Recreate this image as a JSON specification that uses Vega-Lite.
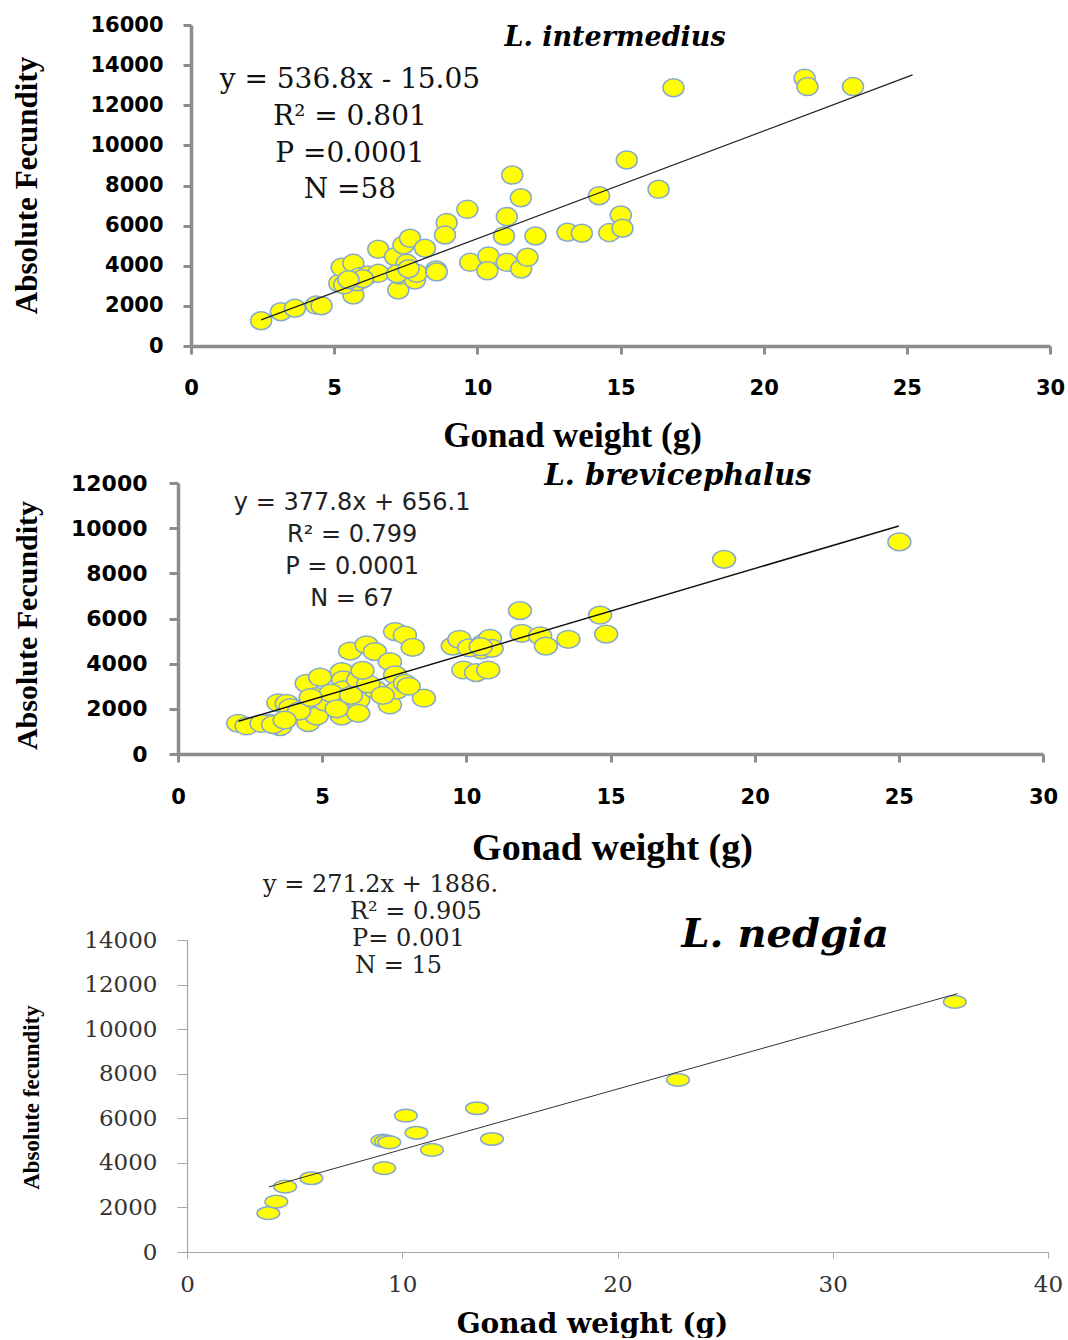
{
  "$schema": "https://vega.github.io/schema/vega-lite/v6.json",
  "padding": {"left": 10, "top": 14, "right": 0, "bottom": 0},
  "bounds": "flush",
  "spacing": 137,
  "config": {"view": {"stroke": null}, "axis": {"grid": false, "labelOverlap": false, "labelFlush": false}},
  "datasets": {
    "p1": [
      {"x":2.45,"y":1260},{"x":3.14,"y":1710},{"x":3.63,"y":1880},{"x":4.37,"y":2040},{"x":4.56,"y":2010},
      {"x":5.18,"y":3125},{"x":5.26,"y":3920},{"x":5.44,"y":3160},{"x":5.67,"y":4120},{"x":5.67,"y":2540},
      {"x":5.67,"y":3290},{"x":5.9,"y":3455},{"x":6.18,"y":3540},{"x":6.54,"y":4820},{"x":6.54,"y":3620},
      {"x":7.13,"y":4450},{"x":7.24,"y":2790},{"x":7.3,"y":3540},{"x":7.42,"y":5035},{"x":7.53,"y":4120},
      {"x":7.65,"y":5370},{"x":7.82,"y":3290},{"x":7.88,"y":3620},{"x":8.17,"y":4870},{"x":8.56,"y":3790},
      {"x":8.58,"y":3690},{"x":8.93,"y":6150},{"x":8.87,"y":5530},{"x":9.65,"y":6810},{"x":9.75,"y":4170},
      {"x":10.39,"y":4490},{"x":10.35,"y":3750},{"x":11.03,"y":6450},{"x":10.93,"y":5480},{"x":11.03,"y":4170},
      {"x":11.22,"y":8520},{"x":11.52,"y":7390},{"x":11.53,"y":3840},{"x":11.75,"y":4420},{"x":12.03,"y":5480},
      {"x":13.15,"y":5670},{"x":13.65,"y":5620},{"x":14.25,"y":7490},{"x":14.61,"y":5650},{"x":15.01,"y":6530},
      {"x":15.07,"y":5870},{"x":15.22,"y":9270},{"x":16.33,"y":7810},{"x":16.85,"y":12870},{"x":21.43,"y":13350},
      {"x":21.53,"y":12930},{"x":23.12,"y":12930},
      {"x":5.35,"y":3050},{"x":5.8,"y":3200},{"x":6.0,"y":3350},{"x":7.2,"y":3600},{"x":7.6,"y":3850},{"x":5.5,"y":3300}
    ],
    "l1": [{"x":2.45,"y":1300},{"x":25.2,"y":13510}],
    "a1": [
      {"x":5.55,"y":13260,"t":"y = 536.8x - 15.05"},
      {"x":5.55,"y":11416,"t":"R² = 0.801"},
      {"x":5.55,"y":9571,"t":"P =0.0001"},
      {"x":5.55,"y":7777,"t":"N =58"}
    ],
    "h1": [{"x":14.81,"y":15350,"t":"L. intermedius"}],
    "p2": [
      {"x":2.09,"y":1360},{"x":2.38,"y":1240},{"x":3.19,"y":1360},{"x":3.54,"y":1210},{"x":3.48,"y":2270},
      {"x":3.77,"y":2240},{"x":4.46,"y":3130},{"x":4.46,"y":2020},{"x":4.52,"y":1390},{"x":4.81,"y":2540},
      {"x":4.81,"y":2090},{"x":4.81,"y":1680},{"x":4.93,"y":3400},{"x":5.68,"y":1680},{"x":5.68,"y":3650},
      {"x":5.73,"y":3280},{"x":5.73,"y":2840},{"x":5.97,"y":4560},{"x":6.25,"y":3280},{"x":6.25,"y":2390},
      {"x":6.25,"y":1800},{"x":6.54,"y":4830},{"x":6.83,"y":4530},{"x":6.83,"y":2860},{"x":7.35,"y":4090},
      {"x":7.35,"y":2170},{"x":7.53,"y":3500},{"x":7.59,"y":2830},{"x":7.53,"y":5420},{"x":7.87,"y":5270},
      {"x":7.87,"y":3130},{"x":8.14,"y":4720},{"x":8.53,"y":2470},{"x":9.53,"y":4780},{"x":9.76,"y":5080},
      {"x":9.9,"y":3720},{"x":10.34,"y":3600},{"x":10.53,"y":4610},{"x":10.59,"y":4900},{"x":10.76,"y":3720},
      {"x":10.82,"y":5120},{"x":10.88,"y":4680},{"x":11.86,"y":6350},{"x":11.92,"y":5340},{"x":12.56,"y":5230},
      {"x":12.76,"y":4780},{"x":13.54,"y":5080},{"x":14.64,"y":6150},{"x":14.85,"y":5310},{"x":18.94,"y":8620},
      {"x":25.02,"y":9390},
      {"x":2.9,"y":1350},{"x":3.3,"y":1300},{"x":3.9,"y":2050},{"x":4.2,"y":1900},{"x":5.1,"y":2300},
      {"x":5.3,"y":2700},{"x":6.0,"y":2600},{"x":6.6,"y":3100},{"x":7.1,"y":2600},{"x":10.1,"y":4700},
      {"x":10.5,"y":4750},{"x":6.4,"y":3700},{"x":4.6,"y":2500},{"x":5.5,"y":2000},{"x":8.0,"y":3000},
      {"x":3.7,"y":1500}
    ],
    "l2": [{"x":2.1,"y":1450},{"x":25.0,"y":10100}],
    "a2": [
      {"x":6.04,"y":11116,"t":"y = 377.8x + 656.1"},
      {"x":6.04,"y":9699,"t":"R² = 0.799"},
      {"x":6.04,"y":8282,"t":"P = 0.0001"},
      {"x":6.04,"y":6864,"t":"N   =  67"}
    ],
    "h2": [{"x":17.34,"y":12312,"t":"L. brevicephalus"}],
    "p3": [
      {"x":3.78,"y":1740},{"x":4.15,"y":2260},{"x":4.56,"y":2930},{"x":5.78,"y":3310},{"x":9.16,"y":3760},
      {"x":9.08,"y":5000},{"x":9.25,"y":4960},{"x":9.4,"y":4920},{"x":10.17,"y":6120},{"x":10.66,"y":5350},
      {"x":11.38,"y":4580},{"x":13.47,"y":6450},{"x":14.17,"y":5070},{"x":22.81,"y":7720},{"x":35.67,"y":11220}
    ],
    "l3": [{"x":3.8,"y":2920},{"x":35.8,"y":11595}],
    "a3": [
      {"x":3.53,"y":16460,"t":"y = 271.2x + 1886."},
      {"x":7.57,"y":15253,"t":"R² = 0.905"},
      {"x":7.67,"y":14042,"t":"P= 0.001"},
      {"x":7.81,"y":12831,"t":"N  = 15"}
    ],
    "h3": [{"x":27.79,"y":14222,"t":"L. nedgia"}]
  },
  "vconcat": [
    {
      "width": 861, "height": 321,
      "layer": [
        {
          "data": {"name": "p1"},
          "mark": {"type": "point", "shape": "M-1,0A1,0.86,0,1,1,1,0A1,0.86,0,1,1,-1,0Z", "filled": true, "fill": "#ffff00", "stroke": "#86a8cf", "strokeWidth": 1.5, "size": 441, "opacity": 1},
          "encoding": {
            "x": {"field": "x", "type": "quantitative", "scale": {"domain": [0, 30], "range": [4, 863], "nice": false, "zero": false},
              "axis": {"values": [0,5,10,15,20,25,30], "title": "Gonad weight (g)", "titleFont": "Liberation Serif", "titleFontSize": 35, "titleFontWeight": "bold", "titleColor": "#000", "titleX": 385, "titleY": 89, "titleBaseline": "middle", "titleAlign": "center",
                "labelFont": "DejaVu Sans", "labelFontSize": 21, "labelFontWeight": "bold", "labelColor": "#000", "labelPadding": 34, "labelBaseline": "middle",
                "tickSize": 8, "tickWidth": 3, "tickColor": "#8c8c8c", "domainColor": "#8c8c8c", "domainWidth": 3.5}},
            "y": {"field": "y", "type": "quantitative", "scale": {"domain": [0, 16000], "nice": false, "zero": false},
              "axis": {"values": [0,2000,4000,6000,8000,10000,12000,14000,16000], "format": "d", "title": "Absolute Fecundity", "titleFont": "Liberation Serif", "titleFontSize": 31, "titleFontWeight": "bold", "titleColor": "#000", "titleX": -164, "titleY": 160, "titleBaseline": "middle", "titleAlign": "center", "titleAngle": -90,
                "labelFont": "DejaVu Sans", "labelFontSize": 21, "labelFontWeight": "bold", "labelColor": "#000", "labelPadding": 20, "offset": -4,
                "tickSize": 8, "tickWidth": 3, "tickColor": "#8c8c8c", "domainColor": "#8c8c8c", "domainWidth": 3.5}}
          }
        },
        {
          "data": {"name": "l1"},
          "mark": {"type": "line", "color": "#222222", "strokeWidth": 1.3},
          "encoding": {
            "x": {"field": "x", "type": "quantitative", "scale": {"domain": [0, 30], "range": [4, 863], "nice": false, "zero": false}},
            "y": {"field": "y", "type": "quantitative", "scale": {"domain": [0, 16000], "nice": false, "zero": false}}
          }
        },
        {
          "data": {"name": "a1"},
          "mark": {"type": "text", "font": "DejaVu Serif", "fontSize": 28, "align": "center", "baseline": "middle", "color": "#111111"},
          "encoding": {
            "x": {"field": "x", "type": "quantitative", "scale": {"domain": [0, 30], "range": [4, 863], "nice": false, "zero": false}},
            "y": {"field": "y", "type": "quantitative", "scale": {"domain": [0, 16000], "nice": false, "zero": false}},
            "text": {"field": "t", "type": "nominal"}
          }
        },
        {
          "data": {"name": "h1"},
          "mark": {"type": "text", "font": "DejaVu Serif", "fontSize": 27, "fontWeight": "bold", "fontStyle": "italic", "align": "center", "baseline": "middle", "color": "#000000"},
          "encoding": {
            "x": {"field": "x", "type": "quantitative", "scale": {"domain": [0, 30], "range": [4, 863], "nice": false, "zero": false}},
            "y": {"field": "y", "type": "quantitative", "scale": {"domain": [0, 16000], "nice": false, "zero": false}},
            "text": {"field": "t", "type": "nominal"}
          }
        }
      ]
    },
    {
      "bounds": "flush",
      "spacing": 186,
      "vconcat": [
        {
          "width": 861, "height": 271,
          "layer": [
            {
              "data": {"name": "p2"},
              "mark": {"type": "point", "shape": "M-1,0A1,0.77,0,1,1,1,0A1,0.77,0,1,1,-1,0Z", "filled": true, "fill": "#ffff00", "stroke": "#86a8cf", "strokeWidth": 1.5, "size": 529, "opacity": 1},
              "encoding": {
                "x": {"field": "x", "type": "quantitative", "scale": {"domain": [0, 30], "range": [-9, 856], "nice": false, "zero": false},
                  "axis": {"values": [0,5,10,15,20,25,30], "title": "Gonad weight (g)", "titleFont": "Liberation Serif", "titleFontSize": 38, "titleFontWeight": "bold", "titleColor": "#000", "titleX": 425, "titleY": 94, "titleBaseline": "middle", "titleAlign": "center",
                    "labelFont": "DejaVu Sans", "labelFontSize": 21, "labelFontWeight": "bold", "labelColor": "#000", "labelPadding": 35, "labelBaseline": "middle",
                    "tickSize": 8, "tickWidth": 3, "tickColor": "#8c8c8c", "domainColor": "#8c8c8c", "domainWidth": 3.5}},
                "y": {"field": "y", "type": "quantitative", "scale": {"domain": [0, 12000], "nice": false, "zero": false},
                  "axis": {"values": [0,2000,4000,6000,8000,10000,12000], "format": "d", "title": "Absolute Fecundity", "titleFont": "Liberation Serif", "titleFontSize": 30, "titleFontWeight": "bold", "titleColor": "#000", "titleX": -151, "titleY": 142, "titleBaseline": "middle", "titleAlign": "center", "titleAngle": -90,
                    "labelFont": "DejaVu Sans", "labelFontSize": 22, "labelFontWeight": "bold", "labelColor": "#000", "labelPadding": 22, "offset": 9,
                    "tickSize": 9, "tickWidth": 3, "tickColor": "#8c8c8c", "domainColor": "#8c8c8c", "domainWidth": 3.5}}
              }
            },
            {
              "data": {"name": "l2"},
              "mark": {"type": "line", "color": "#111111", "strokeWidth": 1.5},
              "encoding": {
                "x": {"field": "x", "type": "quantitative", "scale": {"domain": [0, 30], "range": [-9, 856], "nice": false, "zero": false}},
                "y": {"field": "y", "type": "quantitative", "scale": {"domain": [0, 12000], "nice": false, "zero": false}}
              }
            },
            {
              "data": {"name": "a2"},
              "mark": {"type": "text", "font": "DejaVu Sans", "fontSize": 24, "align": "center", "baseline": "middle", "color": "#222222"},
              "encoding": {
                "x": {"field": "x", "type": "quantitative", "scale": {"domain": [0, 30], "range": [-9, 856], "nice": false, "zero": false}},
                "y": {"field": "y", "type": "quantitative", "scale": {"domain": [0, 12000], "nice": false, "zero": false}},
                "text": {"field": "t", "type": "nominal"}
              }
            },
            {
              "data": {"name": "h2"},
              "mark": {"type": "text", "font": "DejaVu Serif", "fontSize": 29, "fontWeight": "bold", "fontStyle": "italic", "align": "center", "baseline": "middle", "color": "#000000"},
              "encoding": {
                "x": {"field": "x", "type": "quantitative", "scale": {"domain": [0, 30], "range": [-9, 856], "nice": false, "zero": false}},
                "y": {"field": "y", "type": "quantitative", "scale": {"domain": [0, 12000], "nice": false, "zero": false}},
                "text": {"field": "t", "type": "nominal"}
              }
            }
          ]
        },
        {
          "width": 861, "height": 312,
          "layer": [
            {
              "data": {"name": "p3"},
              "mark": {"type": "point", "shape": "M-1,0A1,0.56,0,1,1,1,0A1,0.56,0,1,1,-1,0Z", "filled": true, "fill": "#ffff00", "stroke": "#86a8cf", "strokeWidth": 1.5, "size": 515, "opacity": 1},
              "encoding": {
                "x": {"field": "x", "type": "quantitative", "scale": {"domain": [0, 40], "nice": false, "zero": false},
                  "axis": {"values": [0,10,20,30,40], "title": "Gonad weight (g)", "titleFont": "DejaVu Serif", "titleFontSize": 28, "titleFontWeight": "bold", "titleColor": "#000", "titleX": 405, "titleY": 72, "titleBaseline": "middle", "titleAlign": "center",
                    "labelFont": "DejaVu Serif", "labelFontSize": 23, "labelFontWeight": "normal", "labelColor": "#333", "labelPadding": 26, "labelBaseline": "middle",
                    "tickSize": 6, "tickWidth": 1, "tickColor": "#a6a6a6", "domainColor": "#a6a6a6", "domainWidth": 1.2}},
                "y": {"field": "y", "type": "quantitative", "scale": {"domain": [0, 14000], "nice": false, "zero": false},
                  "axis": {"values": [0,2000,4000,6000,8000,10000,12000,14000], "format": "d", "title": "Absolute fecundity", "titleFont": "Liberation Serif", "titleFontSize": 23, "titleFontWeight": "bold", "titleColor": "#000", "titleX": -156, "titleY": 157, "titleBaseline": "middle", "titleAlign": "center", "titleAngle": -90,
                    "labelFont": "DejaVu Serif", "labelFontSize": 23, "labelFontWeight": "normal", "labelColor": "#333", "labelPadding": 20,
                    "tickSize": 10, "tickWidth": 1, "tickColor": "#a6a6a6", "domainColor": "#a6a6a6", "domainWidth": 1.2}}
              }
            },
            {
              "data": {"name": "l3"},
              "mark": {"type": "line", "color": "#333333", "strokeWidth": 1},
              "encoding": {
                "x": {"field": "x", "type": "quantitative", "scale": {"domain": [0, 40], "nice": false, "zero": false}},
                "y": {"field": "y", "type": "quantitative", "scale": {"domain": [0, 14000], "nice": false, "zero": false}}
              }
            },
            {
              "data": {"name": "a3"},
              "mark": {"type": "text", "font": "DejaVu Serif", "fontSize": 24, "align": "left", "baseline": "middle", "color": "#222222"},
              "encoding": {
                "x": {"field": "x", "type": "quantitative", "scale": {"domain": [0, 40], "nice": false, "zero": false}},
                "y": {"field": "y", "type": "quantitative", "scale": {"domain": [0, 14000], "nice": false, "zero": false}},
                "text": {"field": "t", "type": "nominal"}
              }
            },
            {
              "data": {"name": "h3"},
              "mark": {"type": "text", "font": "DejaVu Serif", "fontSize": 40, "fontWeight": "bold", "fontStyle": "italic", "align": "center", "baseline": "middle", "color": "#000000"},
              "encoding": {
                "x": {"field": "x", "type": "quantitative", "scale": {"domain": [0, 40], "nice": false, "zero": false}},
                "y": {"field": "y", "type": "quantitative", "scale": {"domain": [0, 14000], "nice": false, "zero": false}},
                "text": {"field": "t", "type": "nominal"}
              }
            }
          ]
        }
      ]
    }
  ]
}
